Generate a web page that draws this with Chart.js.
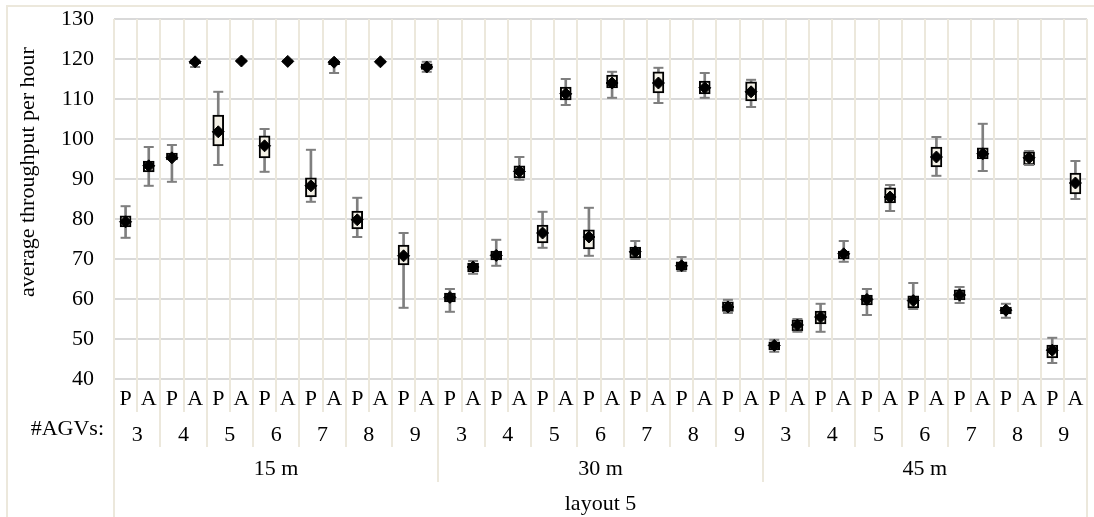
<!DOCTYPE html>
<html>
<head>
<meta charset="utf-8">
<script src="https://cdn.jsdelivr.net/npm/chart.js@4/dist/chart.umd.min.js"></script>
<style>
  html, body { margin: 0; padding: 0; background: #fff; }
  #wrap { position: relative; width: 1094px; height: 517px; }
  #frame { position: absolute; left: 6px; top: 5px; right: 0; bottom: 0;
           border-left: 2px solid #ece8dc; border-top: 2px solid #ece8dc; pointer-events: none; }
</style>
</head>
<body>
<div id="wrap">
  <canvas id="myChart" width="1094" height="517"></canvas>
  <div id="frame"></div>
</div>
<script>
// Category rows (innermost first)
const catLabels = [
  "P","A","P","A","P","A","P","A","P","A","P","A","P","A",
  "P","A","P","A","P","A","P","A","P","A","P","A","P","A",
  "P","A","P","A","P","A","P","A","P","A","P","A","P","A"
];
const agvLabels = [
  "3","4","5","6","7","8","9",
  "3","4","5","6","7","8","9",
  "3","4","5","6","7","8","9"
];
const distLabels = ["15 m", "30 m", "45 m"];
const layoutLabels = ["layout 5"];
const yTicks = { min: 40, max: 130, step: 10 };

// Box plot values, one per category
const whiskerHigh = [
  83.2, 98.0, 98.5, 119.7, 111.8, 119.8, 102.5, 119.7, 97.3, 119.6, 85.3, 119.5, 76.5, 119.3,
  62.5, 69.5, 74.8, 95.5, 81.8, 115.0, 82.8, 116.8, 74.5, 117.8, 70.5, 116.5, 59.8, 114.8,
  49.8, 55.0, 58.8, 74.5, 62.5, 88.5, 64.0, 100.5, 63.0, 103.8, 58.8, 97.0, 50.3, 94.5
];
const q3Vals = [
  80.8, 94.5, 96.5, 119.5, 106.0, 119.7, 100.8, 119.6, 90.3, 119.5, 82.0, 119.4, 73.5, 118.8,
  61.5, 69.0, 72.0, 93.3, 78.5, 113.0, 77.3, 116.0, 73.0, 116.8, 69.3, 114.5, 59.3, 114.3,
  49.3, 54.8, 57.0, 72.0, 61.0, 87.8, 60.8, 98.0, 62.3, 97.8, 58.0, 96.8, 48.5, 91.5
];
const q1Vals = [
  78.0, 91.8, 94.8, 118.8, 98.3, 119.4, 95.3, 119.3, 85.5, 118.6, 77.5, 119.2, 68.5, 117.4,
  59.3, 66.8, 69.8, 90.3, 74.0, 109.8, 72.5, 112.8, 70.3, 111.5, 67.3, 111.3, 56.9, 109.5,
  47.3, 52.0, 53.8, 70.0, 58.5, 84.0, 57.8, 93.0, 59.8, 95.0, 56.3, 93.5, 45.3, 86.3
];
const whiskerLow = [
  75.3, 88.3, 89.3, 118.0, 93.5, 119.3, 91.8, 119.2, 84.3, 116.5, 75.5, 119.1, 57.8, 116.8,
  56.8, 66.3, 68.3, 89.8, 72.8, 108.5, 70.8, 110.3, 70.0, 109.0, 67.0, 110.3, 56.5, 108.0,
  46.8, 51.8, 51.8, 69.3, 56.0, 82.0, 57.5, 90.8, 59.0, 92.0, 55.3, 93.5, 44.0, 85.0
];
const meanVals = [
  79.3, 93.3, 95.3, 119.3, 101.8, 119.5, 98.3, 119.4, 88.3, 119.2, 79.8, 119.3, 70.8, 118.0,
  60.4, 68.0, 70.9, 91.9, 76.5, 111.3, 75.5, 114.0, 71.8, 114.0, 68.3, 112.8, 58.0, 111.8,
  48.4, 53.5, 55.5, 71.3, 59.9, 85.5, 59.6, 95.5, 61.0, 96.3, 57.2, 95.3, 47.2, 89.0
];

const FONT = { family: "'Liberation Serif', 'Times New Roman', serif", size: 22 };
const GRID_H = "#d9d9d9";
const GRID_V = "#ece8dc";

// Texts that sit outside the axes: y title and the "#AGVs:" row header
const extraText = {
  id: "extraText",
  afterDraw(chart) {
    const { ctx } = chart;
    const agv = chart.scales.xAgv;
    ctx.save();
    ctx.fillStyle = "#000";
    ctx.font = `${FONT.size}px ${FONT.family}`;
    ctx.textAlign = "right";
    ctx.textBaseline = "middle";
    ctx.fillText("#AGVs:", chart.chartArea.left - 10, (agv.top + agv.bottom) / 2);
    ctx.translate(28, 172);
    ctx.rotate(-Math.PI / 2);
    ctx.textAlign = "center";
    ctx.fillText("average throughput per hour", 0, 0);
    ctx.restore();
  }
};

// helper for the stacked category rows under the plot
const rowAxis = (labels, weight, height, padding) => ({
  type: "category",
  axis: "x",
  position: "bottom",
  labels,
  offset: true,
  weight,
  border: { display: false },
  grid: {
    offset: true,
    drawOnChartArea: false,
    color: GRID_V,
    tickColor: GRID_V,
    lineWidth: 2,
    tickLength: height
  },
  ticks: { autoSkip: false, maxRotation: 0, padding, font: FONT, color: "#000" },
  afterFit: s => { s.height = height; }
});

new Chart("myChart", {
  type: "bar",
  data: {
    labels: catLabels,
    datasets: [
      {
        label: "whisker",
        type: "bar",
        data: whiskerLow.map((v, i) => [v, whiskerHigh[i]]),
        backgroundColor: "#7f7f7f",
        barThickness: 2,
        grouped: false,
        order: 4
      },
      {
        label: "box",
        type: "bar",
        data: q1Vals.map((v, i) => [v, q3Vals[i]]),
        backgroundColor: "#f3f0e6",
        borderColor: "#000",
        borderWidth: 2,
        borderSkipped: false,
        barThickness: 11,
        grouped: false,
        order: 3
      },
      {
        label: "max",
        type: "line",
        data: whiskerHigh,
        showLine: false,
        pointStyle: "line",
        pointRadius: 5,
        pointBorderColor: "#7f7f7f",
        pointBorderWidth: 2,
        order: 2
      },
      {
        label: "min",
        type: "line",
        data: whiskerLow,
        showLine: false,
        pointStyle: "line",
        pointRadius: 5,
        pointBorderColor: "#7f7f7f",
        pointBorderWidth: 2,
        order: 2
      },
      {
        label: "mean",
        type: "line",
        data: meanVals,
        showLine: false,
        pointStyle: "rectRot",
        pointRadius: 6,
        pointBackgroundColor: "#000",
        pointBorderColor: "#000",
        pointBorderWidth: 1,
        order: 1
      }
    ]
  },
  options: {
    responsive: false,
    animation: false,
    layout: { padding: { top: 19, right: 4, left: 0, bottom: 0 } },
    plugins: { legend: { display: false }, tooltip: { enabled: false } },
    scales: {
      y: {
        min: yTicks.min,
        max: yTicks.max,
        border: { display: false },
        grid: { color: GRID_H, lineWidth: 2, drawTicks: false },
        ticks: { stepSize: yTicks.step, padding: 20, font: FONT, color: "#000" },
        afterFit: s => { s.width = 114; s.paddingTop = 0; s.paddingBottom = 0; }
      },
      x: {
        type: "category",
        position: "bottom",
        offset: true,
        weight: 1,
        border: { display: false },
        grid: {
          offset: true,
          color: GRID_V,
          tickColor: GRID_V,
          lineWidth: 2,
          tickLength: 33
        },
        ticks: { autoSkip: false, maxRotation: 0, padding: -26, font: FONT, color: "#000" },
        afterFit: s => { s.height = 33; }
      },
      xAgv: rowAxis(agvLabels, 2, 35, -25),
      xDist: rowAxis(distLabels, 3, 35, -26),
      xLayout: rowAxis(layoutLabels, 4, 35, -26)
    }
  },
  plugins: [extraText]
});
</script>
</body>
</html>
